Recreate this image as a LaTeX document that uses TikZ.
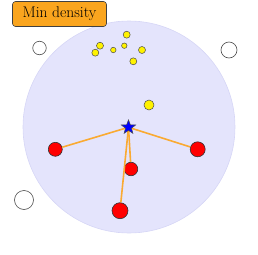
\documentclass[tikz,border=0pt]{standalone}
\usetikzlibrary{shapes.geometric}
\definecolor{bigfill}{RGB}{228,228,252}
\definecolor{bigdraw}{RGB}{214,214,246}
\definecolor{edgeor}{RGB}{250,170,50}
\definecolor{boxor}{RGB}{250,165,30}
\tikzset{
  pt/.style={circle,draw=black!70,line width=0.5pt,inner sep=0pt},
  ylw/.style={pt,fill=yellow},
  red pt/.style={pt,fill=red,draw=black!80,line width=0.6pt},
  wht/.style={pt,fill=white,draw=black!70,line width=0.6pt},
  edge/.style={draw=edgeor,line width=1.6pt},
}
\begin{document}
\begin{tikzpicture}[x=1pt,y=-1pt]
\useasboundingbox (0,0) rectangle (258,255);
\node[circle,fill=bigfill,draw=bigdraw,line width=0.6pt,minimum size=212pt,inner sep=0pt] (big) at (129,127) {};
% yellow
\node[ylw,minimum size=7pt] (y1) at (126.7,34.7) {};
\node[ylw,minimum size=7pt] (y2) at (100,45.7) {};
\node[ylw,minimum size=7pt] (y3) at (95.3,52.7) {};
\node[ylw,minimum size=5.5pt] (y4) at (113.3,50) {};
\node[ylw,minimum size=5.5pt] (y5) at (124.3,45.7) {};
\node[ylw,minimum size=7pt] (y6) at (142,50) {};
\node[ylw,minimum size=7pt] (y7) at (133.3,61.3) {};
\node[ylw,minimum size=10pt] (y8) at (149,105) {};
% red
\node[red pt,minimum size=14pt] (r1) at (55.3,149.3) {};
\node[red pt,minimum size=15pt] (r2) at (197.7,149.3) {};
\node[red pt,minimum size=13.5pt] (r3) at (131,169) {};
\node[red pt,minimum size=16pt] (r4) at (120,210.7) {};
\coordinate (s) at (128.5,127.3);
\draw[edge] (s) -- (r1);
\draw[edge] (s) -- (r2);
\draw[edge] (s) -- (r3);
\draw[edge] (s) -- (r4);
\node[star,star points=5,star point ratio=2.4,fill=blue,draw=black!70,line width=0.5pt,minimum size=15pt,inner sep=0pt] (st) at (s) {};
% white
\node[wht,minimum size=13.5pt] (w1) at (39.5,48) {};
\node[wht,minimum size=16pt] (w2) at (229,50) {};
\node[wht,minimum size=19pt] (w3) at (24,200) {};
% label
\node[draw=black!75,fill=boxor,rounded corners=3pt,line width=0.6pt,minimum width=94pt,minimum height=25pt,inner sep=0pt,font=\fontsize{15.5}{18}\selectfont] (lab) at (59.5,14) {Min density};
\end{tikzpicture}
\end{document}
